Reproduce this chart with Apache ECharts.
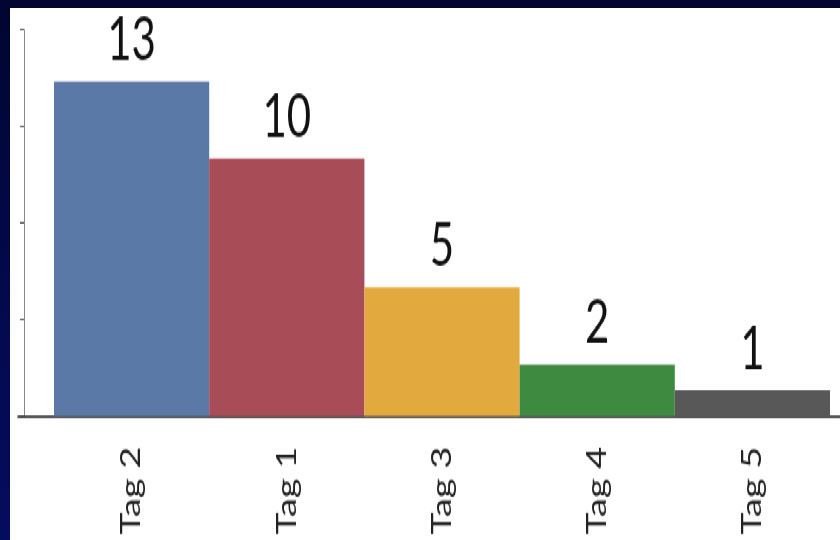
<!DOCTYPE html>
<html>
<head>
<meta charset="utf-8">
<script src="https://cdn.jsdelivr.net/npm/echarts@6/dist/echarts.min.js"></script>
<style>
  html, body { margin: 0; padding: 0; }
  body {
    width: 840px; height: 540px; overflow: hidden;
    background: linear-gradient(180deg, #010530 0%, #030a4e 60%, #040c5e 100%);
    position: relative;
  }
  /* the original picture is stretched vertically, so the chart is drawn
     shorter and scaled up in y */
  #chart {
    position: absolute; left: 10px; top: 8px; width: 830px; height: 380px;
    background: #fff;
    transform: scaleY(1.4); transform-origin: 0 0;
  }
</style>
</head>
<body>
<div id="chart"></div>
<script>
// tags, sorted by count
var tags = ['Tag 2', 'Tag 1', 'Tag 3', 'Tag 4', 'Tag 5'];
var counts = [13, 10, 5, 2, 1];
var barColors = ['#5a79a6', '#a84c57', '#e2a93e', '#3f8a41', '#585858'];

var myChart = echarts.init(document.getElementById('chart'));

var option = {
    animation: false,
    grid: [
        // bars
        {left: 44, right: 10, top: 15.7, bottom: 88.6},
        // long baseline under the bars
        {left: 8, right: 0, top: 15.7, bottom: 88.6}
    ],
    xAxis: [
        {
            type: 'category',
            gridIndex: 0,
            data: tags,
            axisLine: {show: false},
            axisTick: {show: false},
            axisLabel: {
                rotate: 90,
                margin: 22,
                fontSize: 27,
                fontFamily: 'Lato',
                color: '#222'
            }
        },
        {
            type: 'value',
            gridIndex: 1,
            min: 0,
            max: 1,
            axisLine: {show: true, lineStyle: {color: '#222', width: 1.5}},
            axisTick: {show: false},
            axisLabel: {show: false},
            splitLine: {show: false}
        }
    ],
    yAxis: [
        {
            type: 'value',
            gridIndex: 0,
            min: 0,
            max: 15,
            interval: 3.75,
            offset: 30,
            axisLine: {show: true, lineStyle: {color: '#888', width: 1}},
            axisTick: {show: true, length: 4, lineStyle: {color: '#444'}},
            axisLabel: {show: false},
            splitLine: {show: false}
        },
        {
            type: 'value',
            gridIndex: 1,
            show: false
        }
    ],
    series: [
        {
            type: 'bar',
            xAxisIndex: 0,
            yAxisIndex: 0,
            barCategoryGap: 0,
            data: counts.map(function (v, i) {
                return {value: v, itemStyle: {color: barColors[i]}};
            }),
            label: {
                show: true,
                position: 'top',
                distance: 8,
                fontSize: 42,
                fontFamily: 'Lato',
                color: '#111'
            }
        }
    ]
};

myChart.setOption(option);
window.addEventListener('resize', function () {
    myChart.resize();
});
</script>
</body>
</html>
